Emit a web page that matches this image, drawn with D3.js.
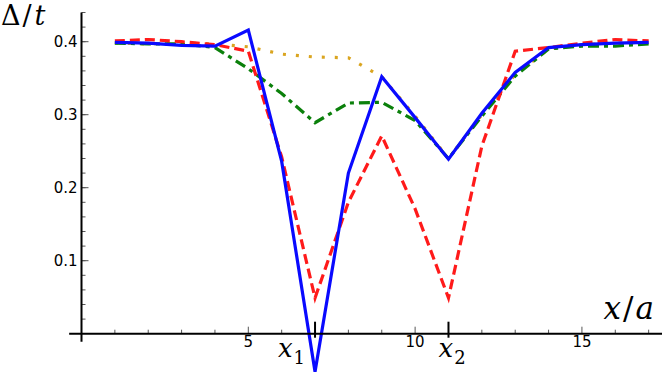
<!DOCTYPE html>
<html>
<head>
<meta charset="utf-8">
<script src="https://cdn.jsdelivr.net/npm/d3@7"></script>
<style>
  html, body { margin: 0; padding: 0; background: #fff; }
  svg { display: block; }
</style>
</head>
<body>
<div id="chart"></div>
<script>
// site positions and gap values
const sites = [1, 2, 3, 4, 5, 6, 7, 8, 9, 10, 11, 12, 13, 14, 15, 16, 17];
const blueVals   = [0.399, 0.398, 0.395, 0.394, 0.416, 0.236, -0.052, 0.220, 0.352, 0.296, 0.239, 0.302, 0.358, 0.392, 0.396, 0.398, 0.399];
const redVals    = [0.401, 0.403, 0.400, 0.396, 0.387, 0.242, 0.049, 0.180, 0.271, 0.171, 0.049, 0.257, 0.387, 0.392, 0.398, 0.403, 0.401];
const greenVals  = [0.398, 0.397, 0.397, 0.392, 0.363, 0.329, 0.289, 0.316, 0.317, 0.292, 0.240, 0.298, 0.353, 0.390, 0.394, 0.394, 0.397];
const orangeVals = [0.398, 0.397, 0.398, 0.397, 0.393, 0.383, 0.379, 0.378, 0.352, 0.298, 0.240, 0.300, 0.355, 0.390, 0.396, 0.398, 0.399];

const xTickVals = [5, 10, 15];
const yTickVals = [0.1, 0.2, 0.3, 0.4];
// x1 label sits left of its tick, x2 label just right of it
const markedSites = [{x: 7, sub: "1", anchor: "end", dx: -10}, {x: 11, sub: "2", anchor: "start", dx: -10}];

const width = 664, height = 374;

const svg = d3.select('#chart').append('svg')
    .attr('width', width)
    .attr('height', height);

const x = d3.scaleLinear().domain([0, 17.4]).range([81.5, 662]);
const y = d3.scaleLinear().domain([0, 0.44]).range([333.7, 12.5]);

// series, drawn back to front
const series = [
    {vals: orangeVals, color: '#daa520', dash: '3,10'},
    {vals: greenVals,  color: '#0b800b', dash: '11,5,4,5'},
    {vals: redVals,    color: '#ff1a1a', dash: '10,5'},
    {vals: blueVals,   color: '#0a0aff', dash: null}
];

const line = d3.line()
    .x((d, i) => x(sites[i]))
    .y(d => y(d));

series.forEach(s => {
    svg.append('path')
        .datum(s.vals)
        .attr('d', line)
        .attr('fill', 'none')
        .attr('stroke', s.color)
        .attr('stroke-width', 3.2)
        .attr('stroke-linejoin', 'miter')
        .attr('stroke-dasharray', s.dash);
});

// axes
const axisG = svg.append('g');

// minor y ticks every 0.02
const yMinor = d3.range(0.02, 0.4401, 0.02);
axisG.selectAll('.ymin').data(yMinor).join('line')
    .attr('x1', x(0)).attr('x2', x(0) + 4)
    .attr('y1', d => y(d)).attr('y2', d => y(d))
    .attr('stroke', '#555').attr('stroke-width', 1);
axisG.selectAll('.ymaj').data(yTickVals).join('line')
    .attr('x1', x(0)).attr('x2', x(0) + 7)
    .attr('y1', d => y(d)).attr('y2', d => y(d))
    .attr('stroke', '#555').attr('stroke-width', 1);
axisG.selectAll('.ylab').data(yTickVals).join('text')
    .attr('x', x(0) - 4)
    .attr('y', d => y(d) + 5.5)
    .attr('text-anchor', 'end')
    .attr('font-family', 'DejaVu Sans, sans-serif')
    .attr('font-size', 15)
    .text(d => d3.format('.1f')(d));

// minor x ticks at every site
const xMinor = d3.range(1, 18).filter(v => !markedSites.some(m => m.x === v));
axisG.selectAll('.xmin').data(xMinor).join('line')
    .attr('x1', d => x(d)).attr('x2', d => x(d))
    .attr('y1', y(0)).attr('y2', d => y(0) - (xTickVals.includes(d) ? 7 : 4))
    .attr('stroke', '#555').attr('stroke-width', 1);
axisG.selectAll('.xlab').data(xTickVals).join('text')
    .attr('x', d => x(d))
    .attr('y', 347)
    .attr('text-anchor', 'middle')
    .attr('font-family', 'DejaVu Sans, sans-serif')
    .attr('font-size', 15)
    .text(d => d);

// marked sites x1, x2
axisG.selectAll('.xmark').data(markedSites).join('line')
    .attr('x1', d => x(d.x)).attr('x2', d => x(d.x))
    .attr('y1', y(0) - 12).attr('y2', y(0) + 4)
    .attr('stroke', '#000').attr('stroke-width', 2);
const markLab = axisG.selectAll('.xmlab').data(markedSites).join('text')
    .attr('x', d => x(d.x) + d.dx)
    .attr('y', 357)
    .attr('text-anchor', d => d.anchor)
    .attr('font-family', 'DejaVu Serif, serif');
markLab.append('tspan').attr('font-style', 'italic').attr('font-size', 26).text('x');
markLab.append('tspan').attr('font-size', 18).attr('dy', 7).attr('dx', 1).text(d => d.sub);

// axis lines
axisG.append('line')
    .attr('x1', x(0)).attr('x2', x(0))
    .attr('y1', y(0.44)).attr('y2', y(0) + 8)
    .attr('stroke', '#000').attr('stroke-width', 2);
axisG.append('line')
    .attr('x1', x(-0.37)).attr('x2', x(17.4))
    .attr('y1', y(0)).attr('y2', y(0))
    .attr('stroke', '#000').attr('stroke-width', 2);

// axis titles
const yTitle = svg.append('text')
    .attr('x', 1).attr('y', 25)
    .attr('font-family', 'DejaVu Serif, serif')
    .attr('font-size', 27);
yTitle.append('tspan').text('Δ');
yTitle.append('tspan').attr('dx', 2).text('/');
yTitle.append('tspan').attr('dx', 3).attr('font-style', 'italic').text('t');

const xTitle = svg.append('text')
    .attr('x', 654).attr('y', 319)
    .attr('text-anchor', 'end')
    .attr('font-family', 'DejaVu Serif, serif')
    .attr('font-style', 'italic')
    .attr('font-size', 31);
xTitle.append('tspan').text('x');
xTitle.append('tspan').attr('font-style', 'normal').attr('dx', 2).text('/');
xTitle.append('tspan').attr('dx', 2).text('a');
</script>
</body>
</html>
